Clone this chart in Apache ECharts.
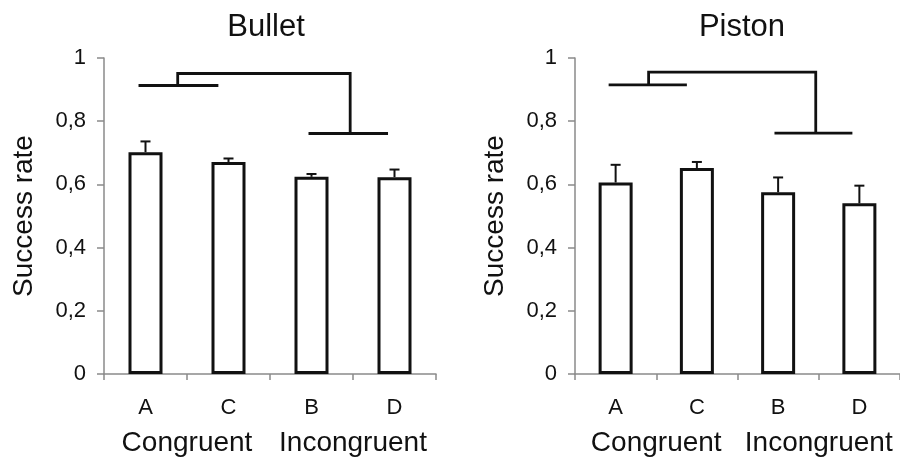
<!DOCTYPE html>
<html lang="en">
<head>
    <meta charset="UTF-8">
    <title>success rate</title>
    <script src="https://cdn.jsdelivr.net/npm/echarts@6/dist/echarts.min.js"></script>
</head>
<body style="margin:0;padding:0;background:#fff;">
<div id="chart" style="width:900px;height:457px;"></div>
<script>
    // categories and group labels
    var categories = ['A', 'C', 'B', 'D'];
    var groups = ['Congruent', 'Incongruent'];
    var yTicks = [0, 0.2, 0.4, 0.6, 0.8, 1];

    // Bullet panel
    var bulletMean = [0.702, 0.671, 0.624, 0.623];
    var bulletErrTop = [0.736, 0.682, 0.633, 0.647];
    // bracket segments, x in category units (0..4), y in success rate
    var bulletBracket = [
        [[0.416, 0.913], [1.378, 0.913]],
        [[0.888, 0.913], [0.888, 0.951], [2.966, 0.951], [2.966, 0.761]],
        [[2.464, 0.761], [3.422, 0.761]]
    ];

    // Piston panel
    var pistonMean = [0.606, 0.652, 0.575, 0.540];
    var pistonErrTop = [0.662, 0.671, 0.622, 0.596];
    var pistonBracket = [
        [[0.414, 0.915], [1.377, 0.915]],
        [[0.906, 0.915], [0.906, 0.955], [2.963, 0.955], [2.963, 0.762]],
        [[2.455, 0.762], [3.414, 0.762]]
    ];

    var FONT = 'Liberation Sans, Arial, Helvetica, sans-serif';
    var AXIS_COLOR = '#8a8a8a';

    function catAxis(grid) {
        return {
            type: 'category', gridIndex: grid, data: categories,
            axisLine: { lineStyle: { color: AXIS_COLOR, width: 1.5 } },
            axisTick: { show: true, length: 6, lineStyle: { color: AXIS_COLOR, width: 1.5 } },
            axisLabel: { color: '#111', fontSize: 22, fontFamily: FONT, margin: 23, interval: 0 }
        };
    }
    function groupAxis(grid) {
        return {
            type: 'category', gridIndex: grid, data: groups, position: 'bottom',
            axisLine: { show: false }, axisTick: { show: false },
            axisLabel: { color: '#111', fontSize: 28, fontFamily: FONT, margin: 55, interval: 0, hideOverlap: false }
        };
    }
    function valAxisX(grid) {
        return { type: 'value', gridIndex: grid, min: 0, max: 4, show: false };
    }
    function yAxis(grid) {
        return {
            type: 'value', gridIndex: grid, min: 0, max: 1, interval: 0.2,
            name: 'Success rate', nameLocation: 'middle', nameGap: 66,
            nameTextStyle: { color: '#111', fontSize: 28, fontFamily: FONT },
            splitLine: { show: false },
            axisLine: { show: true, lineStyle: { color: AXIS_COLOR, width: 1.5 } },
            axisTick: { show: true, length: 7, lineStyle: { color: AXIS_COLOR, width: 1.5 } },
            axisLabel: {
                color: '#111', fontSize: 22, fontFamily: FONT, margin: 18,
                formatter: function (v) { return String(+v.toFixed(1)).replace('.', ','); }
            }
        };
    }

    function barSeries(xi, yi, data) {
        return {
            type: 'bar', xAxisIndex: xi, yAxisIndex: yi, data: data, barWidth: 34,
            itemStyle: { color: '#fff', borderColor: '#111', borderWidth: 3 },
            z: 3
        };
    }
    function errSeries(xi, yi, mean, top) {
        var data = mean.map(function (m, i) { return [i, m, top[i]]; });
        return {
            type: 'custom', xAxisIndex: xi, yAxisIndex: yi, data: data, z: 2,
            renderItem: function (params, api) {
                var p0 = api.coord([api.value(0), api.value(1)]);
                var p1 = api.coord([api.value(0), api.value(2)]);
                var style = { stroke: '#111', lineWidth: 2 };
                return {
                    type: 'group', children: [
                        { type: 'line', shape: { x1: p0[0], y1: p0[1], x2: p1[0], y2: p1[1] }, style: style },
                        { type: 'line', shape: { x1: p1[0] - 5, y1: p1[1], x2: p1[0] + 5, y2: p1[1] }, style: style }
                    ]
                };
            }
        };
    }
    function bracketSeries(xi, yi, segs) {
        return segs.map(function (s) {
            return {
                type: 'line', xAxisIndex: xi, yAxisIndex: yi, data: s,
                symbol: 'none', silent: true, z: 4,
                lineStyle: { color: '#111', width: 2.8, join: 'miter' }
            };
        });
    }

    var chart = echarts.init(document.getElementById('chart'));
    var option = {
        animation: false,
        backgroundColor: '#fff',
        title: [
            { text: 'Bullet', left: 261, top: 7, textAlign: 'center',
              textStyle: { fontSize: 31, fontWeight: 'normal', color: '#111', fontFamily: FONT } },
            { text: 'Piston', left: 737, top: 7, textAlign: 'center',
              textStyle: { fontSize: 31, fontWeight: 'normal', color: '#111', fontFamily: FONT } }
        ],
        grid: [
            { left: 104, top: 58, width: 332, height: 318 },
            { left: 575, top: 58, width: 331, height: 318 }
        ],
        xAxis: [catAxis(0), groupAxis(0), valAxisX(0), catAxis(1), groupAxis(1), valAxisX(1)],
        yAxis: [yAxis(0), yAxis(1)],
        series: [].concat(
            barSeries(0, 0, bulletMean),
            errSeries(0, 0, bulletMean, bulletErrTop),
            bracketSeries(2, 0, bulletBracket),
            barSeries(3, 1, pistonMean),
            errSeries(3, 1, pistonMean, pistonErrTop),
            bracketSeries(5, 1, pistonBracket)
        )
    };
    chart.setOption(option);
</script>
</body>
</html>
